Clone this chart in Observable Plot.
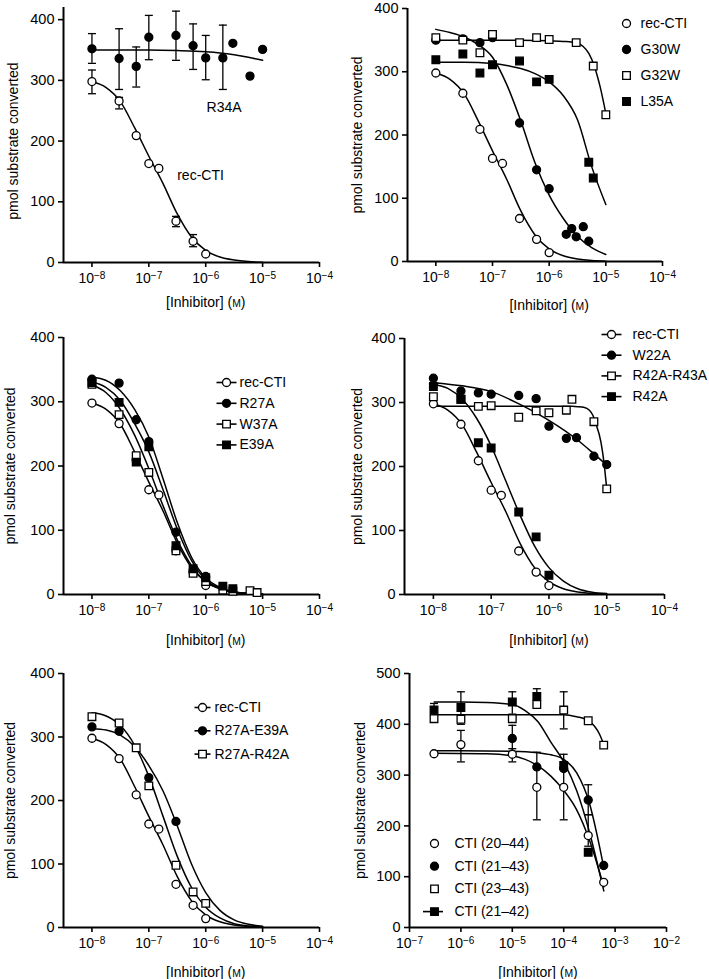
<!DOCTYPE html>
<html><head><meta charset="utf-8">
<script src="https://cdn.jsdelivr.net/npm/d3@7"></script>
<script src="https://cdn.jsdelivr.net/npm/@observablehq/plot@0.6"></script>
<style>
body{margin:0;background:#fff;}
#root{position:relative;width:709px;height:979px;overflow:hidden;background:#fff;font-family:"Liberation Sans",Arial,sans-serif;}
#root svg{position:absolute;}
</style></head><body><div id="root"></div>
<script>
// ---------- shared ticks ----------
const xTicksA = [1e-8, 1e-7, 1e-6, 1e-5, 1e-4];
const xTicksF = [1e-7, 1e-6, 1e-5, 1e-4, 1e-3, 1e-2];
const yTicksA = [0, 100, 200, 300, 400];
const yTicksF = [0, 100, 200, 300, 400, 500];
const yLabel = "pmol substrate converted";
const xLabel = "[Inhibitor] (M)";
const fitE = [-8, -7.75, -7.5, -7.25, -7, -6.75, -6.5, -6.25, -6, -5.75, -5.5, -5.25, -5];

// ---------- rec-CTI (shared) ----------
const recX = [1e-8, 3e-8, 6e-8, 1e-7, 1.5e-7, 3e-7, 6e-7, 1e-6];
const recY = [298, 266, 209, 163, 155, 68, 35, 14];
const recErrX = [1e-8, 3e-8, 3e-7, 6e-7];
const recErrLo = [278, 253, 59, 26];
const recErrHi = [317, 272, 76, 46];
const recFit = [298, 288, 265, 222, 175, 130, 80, 42, 20, 9, 4, 1.5, 0.5];

// ---------- panel A ----------
const r34aX = [1e-8, 3e-8, 6e-8, 1e-7, 3e-7, 6e-7, 1e-6, 2e-6, 3e-6, 6e-6, 1e-5];
const r34aY = [352, 336, 323, 371, 374, 357, 337, 337, 361, 307, 351];
const r34aErrX = [1e-8, 3e-8, 6e-8, 1e-7, 3e-7, 6e-7, 1e-6, 2e-6];
const r34aErrLo = [328, 285, 289, 334, 333, 318, 301, 285];
const r34aErrHi = [377, 385, 355, 407, 414, 393, 374, 391];
const r34aFitE = [-8, -7.5, -7, -6.5, -6, -5.75, -5.5, -5.25, -5];
const r34aFit = [350, 350, 350, 349, 347, 345, 342, 338, 333];
const annText = ["R34A", "rec-CTI"];
const annX = [2.1e-6, 8.1e-7];
const annY = [255, 143];

// ---------- panel B ----------
const g30wX = [1e-8, 3e-8, 6e-8, 1e-7, 3e-7, 6e-7, 1e-6, 2e-6, 2.5e-6, 3e-6, 4e-6, 5e-6];
const g30wY = [350, 352, 346, 354, 219, 145, 115, 43, 52, 39, 55, 32];
const g30wFit = [367, 362, 355, 343, 323, 280, 222, 156, 105, 68, 40, 22, 11];
const g32wX = [1e-8, 3e-8, 6e-8, 1e-7, 3e-7, 6e-7, 1e-6, 3e-6, 6e-6, 1e-5];
const g32wY = [354, 350, 330, 359, 346, 354, 351, 346, 309, 232];
const g32wFitE = [-8, -7, -6.5, -6, -5.75, -5.5, -5.4, -5.3, -5.2, -5.1, -5];
const g32wFit = [350, 350, 350, 349, 348, 345, 340, 329, 308, 276, 234];
const l35aX = [1e-8, 3e-8, 6e-8, 1e-7, 3e-7, 6e-7, 1e-6, 5e-6, 6e-6];
const l35aY = [319, 328, 298, 311, 317, 284, 288, 157, 132];
const l35aFitE = [-8, -7.5, -7, -6.75, -6.5, -6.25, -6, -5.75, -5.5, -5.25, -5];
const l35aFit = [315, 315, 313, 310, 305, 297, 284, 262, 224, 150, 90];

// ---------- panel C ----------
const r27aX = [1e-8, 3e-8, 6e-8, 1e-7, 3e-7, 1e-6];
const r27aY = [335, 329, 272, 238, 97, 28];
const r27aFit = [338, 333, 317, 288, 245, 180, 112, 58, 26, 11, 4, 1.5, 0.5];
const w37aX = [1e-8, 3e-8, 6e-8, 1e-7, 3e-7, 6e-7, 1e-6, 2e-6, 3e-6, 6e-6, 8e-6];
const w37aY = [327, 280, 216, 190, 68, 33, 20, 7, 5, 6, 3];
const w37aFit = [326, 314, 288, 248, 196, 138, 85, 45, 20, 9, 3.5, 1.2, 0.4];
const e39aX = [1e-8, 3e-8, 6e-8, 1e-7, 3e-7, 6e-7, 1e-6, 2e-6, 3e-6];
const e39aY = [330, 299, 206, 230, 76, 40, 26, 13, 9];
const e39aFit = [331, 322, 302, 266, 222, 163, 102, 53, 23, 10, 4, 1.5, 0.5];

// ---------- panel D ----------
const w22aX = [1e-8, 3e-8, 6e-8, 1e-7, 3e-7, 6e-7, 1e-6, 2e-6, 3e-6, 6e-6, 1e-5];
const w22aY = [338, 318, 315, 313, 311, 306, 263, 244, 245, 216, 203];
const w22aFitE = [-8, -7.5, -7, -6.5, -6, -5.5, -5.25, -5];
const w22aFit = [331, 326, 317, 297, 272, 241, 222, 202];
const r4243X = [1e-8, 3e-8, 6e-8, 1e-7, 3e-7, 6e-7, 1e-6, 2e-6, 2.5e-6, 6e-6, 1e-5];
const r4243Y = [309, 305, 294, 295, 277, 287, 284, 288, 305, 270, 165];
const r4243FitE = [-8, -7, -6, -5.6, -5.5, -5.4, -5.3, -5.24, -5.2, -5.1, -5.05, -5];
const r4243Fit = [294, 294, 294, 294, 293.5, 292.5, 288, 280, 270, 238, 208, 165];
const r42aX = [1e-8, 3e-8, 6e-8, 1e-7, 3e-7, 6e-7, 1e-6];
const r42aY = [325, 305, 237, 229, 129, 90, 30];
const r42aFit = [328, 322, 305, 275, 232, 178, 124, 76, 42, 21, 9, 3.5, 1.5];

// ---------- panel E ----------
const r27e39X = [1e-8, 3e-8, 1e-7, 3e-7];
const r27e39Y = [316, 309, 236, 167];
const r27e39Fit = [313, 311, 303, 285, 255, 215, 160, 100, 55, 27, 12, 5, 2];
const r27r42X = [1e-8, 3e-8, 6e-8, 1e-7, 3e-7, 6e-7, 1e-6];
const r27r42Y = [332, 322, 283, 223, 98, 56, 38];
const r27r42Fit = [338, 333, 318, 287, 238, 175, 112, 63, 32, 15, 6, 2.5, 1];

// ---------- panel F ----------
const c2044X = [3e-7, 1e-6, 1e-5, 3e-5, 1e-4, 3e-4, 6e-4];
const c2044Y = [342, 360, 341, 276, 276, 181, 89];
const c2044ErrX = [1e-6, 1e-5, 3e-5, 1e-4, 3e-4];
const c2044ErrLo = [326, 326, 212, 212, 160];
const c2044ErrHi = [388, 352, 345, 341, 222];
const c2044FitE = [-6.52, -5.5, -5, -4.75, -4.5, -4.25, -4, -3.75, -3.5, -3.35, -3.22];
const c2044Fit = [343, 342, 338, 331, 318, 298, 270, 232, 172, 125, 80];
const c2143X = [1e-5, 3e-5, 1e-4, 3e-4, 6e-4];
const c2143Y = [372, 316, 313, 251, 122];
const c2143ErrX = [1e-5, 3e-4];
const c2143ErrLo = [345, 222];
const c2143ErrHi = [398, 281];
const c2143FitE = [-6.52, -5, -4.5, -4.25, -4, -3.75, -3.5, -3.35, -3.22];
const c2143Fit = [348, 347, 344, 340, 331, 305, 245, 182, 118];
const c2343X = [3e-7, 1e-6, 1e-5, 3e-5, 1e-4, 3e-4, 6e-4];
const c2343Y = [411, 410, 411, 439, 428, 407, 359];
const c2343ErrX = [1e-4];
const c2343ErrLo = [391];
const c2343ErrHi = [464];
const c2343FitE = [-6.52, -5, -4, -3.75, -3.5, -3.4, -3.3, -3.22];
const c2343Fit = [419, 419, 419, 415, 406, 396, 380, 360];
const c2142X = [3e-7, 1e-6, 1e-5, 3e-5, 1e-4, 3e-4];
const c2142Y = [428, 433, 444, 455, 319, 148];
const c2142ErrX = [3e-7, 1e-6, 1e-5, 3e-5];
const c2142ErrLo = [418, 400, 420, 440];
const c2142ErrHi = [441, 464, 464, 470];
const c2142FitE = [-6.52, -6, -5.5, -5, -4.75, -4.5, -4.25, -4, -3.75, -3.5, -3.35, -3.22];
const c2142Fit = [444, 444, 443, 439, 427, 405, 365, 326, 270, 188, 128, 72];

// ---------- styles ----------
const ST = {
  oc: {symbol: "circle", fill: "white", r: 4},
  fc: {symbol: "circle", fill: "black", r: 4},
  os: {symbol: "square", fill: "white", r: 4.3},
  fs: {symbol: "square", fill: "black", r: 4.3}
};
const hSym = {draw(ctx, size) { const w = Math.sqrt(size / Math.PI); ctx.moveTo(-w, 0); ctx.lineTo(w, 0); }};
const FONT = '"Liberation Sans", Arial, Helvetica, sans-serif';

const rec = {name: "rec-CTI", x: recX, y: recY, st: "oc", fitE, fit: recFit};

const panels = [
  {left: 0, top: 0, width: 354, height: 320, m: [7, 35, 58, 63], xDomain: [10 ** -8.5, 1e-4], xTicks: xTicksA,
   yDomain: [0, 420], yTicks: yTicksA, ylabDx: -50, xlabDy: 40,
   series: [
     {name: "R34A", x: r34aX, y: r34aY, st: "fc", fitE: r34aFitE, fit: r34aFit, errX: r34aErrX, lo: r34aErrLo, hi: r34aErrHi},
     {...rec, errX: recErrX, lo: recErrLo, hi: recErrHi}],
   ann: true},
  {left: 354, top: 0, width: 355, height: 320, m: [8, 47, 59, 53], xDomain: [10 ** -8.5, 1e-4], xTicks: xTicksA,
   yDomain: [0, 400], yTicks: yTicksA, ylabDx: -50, xlabDy: 44,
   series: [
     rec,
     {name: "G30W", x: g30wX, y: g30wY, st: "fc", fitE, fit: g30wFit},
     {name: "G32W", x: g32wX, y: g32wY, st: "os", fitE: g32wFitE, fit: g32wFit},
     {name: "L35A", x: l35aX, y: l35aY, st: "fs", fitE: l35aFitE, fit: l35aFit}],
   legend: {symX: 626, textX: 640, y0: 23, step: 26, half: 0}},
  {left: 0, top: 320, width: 354, height: 330, m: [17, 35, 56, 63], xDomain: [10 ** -8.5, 1e-4], xTicks: xTicksA,
   yDomain: [0, 400], yTicks: yTicksA, ylabDx: -53, xlabDy: 46,
   series: [
     rec,
     {name: "R27A", x: r27aX, y: r27aY, st: "fc", fitE, fit: r27aFit},
     {name: "W37A", x: w37aX, y: w37aY, st: "os", fitE, fit: w37aFit},
     {name: "E39A", x: e39aX, y: e39aY, st: "fs", fitE, fit: e39aFit}],
   legend: {symX: 226, textX: 239, y0: 382, step: 20.8, half: 10}},
  {left: 354, top: 320, width: 355, height: 330, m: [18, 45, 56, 50], xDomain: [10 ** -8.5, 1e-4], xTicks: xTicksA,
   yDomain: [0, 400], yTicks: yTicksA, ylabDx: -47, xlabDy: 46,
   series: [
     rec,
     {name: "W22A", x: w22aX, y: w22aY, st: "fc", fitE: w22aFitE, fit: w22aFit},
     {name: "R42A-R43A", x: r4243X, y: r4243Y, st: "os", fitE: r4243FitE, fit: r4243Fit},
     {name: "R42A", x: r42aX, y: r42aY, st: "fs", fitE, fit: r42aFit}],
   legend: {symX: 611, textX: 632, y0: 334, step: 20.7, half: 10}},
  {left: 0, top: 650, width: 354, height: 329, m: [23, 35, 52, 63], xDomain: [10 ** -8.5, 1e-4], xTicks: xTicksA,
   yDomain: [0, 400], yTicks: yTicksA, ylabDx: -53, xlabDy: 45,
   series: [
     rec,
     {name: "R27A-E39A", x: r27e39X, y: r27e39Y, st: "fc", fitE, fit: r27e39Fit},
     {name: "R27A-R42A", x: r27r42X, y: r27r42Y, st: "os", fitE, fit: r27r42Fit}],
   legend: {symX: 202, textX: 214, y0: 707, step: 23.3, half: 8}},
  {left: 354, top: 650, width: 355, height: 329, m: [23, 43, 52, 55], xDomain: [1e-7, 1e-2], xTicks: xTicksF,
   yDomain: [0, 500], yTicks: yTicksF, ylabDx: -49, xlabDy: 45,
   series: [
     {name: "CTI (20–44)", x: c2044X, y: c2044Y, st: "oc", fitE: c2044FitE, fit: c2044Fit, errX: c2044ErrX, lo: c2044ErrLo, hi: c2044ErrHi, noLegLine: true},
     {name: "CTI (21–43)", x: c2143X, y: c2143Y, st: "fc", fitE: c2143FitE, fit: c2143Fit, errX: c2143ErrX, lo: c2143ErrLo, hi: c2143ErrHi, noLegLine: true},
     {name: "CTI (23–43)", x: c2343X, y: c2343Y, st: "os", fitE: c2343FitE, fit: c2343Fit, errX: c2343ErrX, lo: c2343ErrLo, hi: c2343ErrHi, noLegLine: true},
     {name: "CTI (21–42)", x: c2142X, y: c2142Y, st: "fs", fitE: c2142FitE, fit: c2142Fit, errX: c2142ErrX, lo: c2142ErrLo, hi: c2142ErrHi}],
   legend: {symX: 434, textX: 454, y0: 843, step: 22.7, half: 10}}
];

function fixText(svg) {
  const NS = "http://www.w3.org/2000/svg";
  svg.querySelectorAll("text").forEach(t => {
    const s = t.textContent;
    const m = /^10\^(-?\d+)$/.exec(s);
    if (m) {
      t.textContent = "10";
      const sup = document.createElementNS(NS, "tspan");
      sup.setAttribute("dy", "-0.45em");
      sup.setAttribute("font-size", "0.72em");
      sup.textContent = m[1].replace("-", "\u2212");
      t.appendChild(sup);
    } else if (s.includes("(M)")) {
      const i = s.indexOf("(M)");
      t.textContent = s.slice(0, i + 1);
      const sc = document.createElementNS(NS, "tspan");
      sc.setAttribute("font-size", "0.74em");
      sc.textContent = "M";
      t.appendChild(sc);
      t.appendChild(document.createTextNode(")"));
    }
  });
}

const root = document.getElementById("root");
for (const p of panels) {
  const [mT, mR, mB, mL] = p.m;
  const marks = [];
  // axes
  marks.push(Plot.ruleX([p.xDomain[0]], {stroke: "black", strokeWidth: 2}));
  marks.push(Plot.ruleY([p.yDomain[0]], {stroke: "black", strokeWidth: 2}));
  marks.push(Plot.axisX({ticks: p.xTicks, tickFormat: v => "10^" + Math.round(Math.log10(v)), tickSize: 5, tickPadding: 6, strokeWidth: 1.6, label: null, fontSize: 14}));
  marks.push(Plot.axisY({ticks: p.yTicks, tickSize: 5, tickPadding: 4, strokeWidth: 1.6, label: null, fontSize: 14.5}));
  // fitted curves
  for (const s of p.series) {
    const d = s.fitE.map((e, i) => ({x: 10 ** e, y: s.fit[i]}));
    marks.push(Plot.line(d, {x: "x", y: "y", curve: "monotone-x", stroke: "black", strokeWidth: 1.5}));
  }
  // error bars
  for (const s of p.series) {
    if (!s.errX) continue;
    const d = s.errX.map((x, i) => ({x, lo: s.lo[i], hi: s.hi[i]}));
    marks.push(Plot.ruleX(d, {x: "x", y1: "lo", y2: "hi", stroke: "black", strokeWidth: 1.3}));
    marks.push(Plot.dot(d, {x: "x", y: "lo", symbol: hSym, r: 4, fill: "none", stroke: "black", strokeWidth: 1.3}));
    marks.push(Plot.dot(d, {x: "x", y: "hi", symbol: hSym, r: 4, fill: "none", stroke: "black", strokeWidth: 1.3}));
  }
  // points
  for (const s of p.series) {
    const d = s.x.map((x, i) => ({x, y: s.y[i]}));
    const st = ST[s.st];
    marks.push(Plot.dot(d, {x: "x", y: "y", symbol: st.symbol, r: st.r, fill: st.fill, stroke: "black", strokeWidth: 1.3}));
  }
  // annotations (panel A)
  if (p.ann) {
    const d = annText.map((t, i) => ({t, x: annX[i], y: annY[i]}));
    marks.push(Plot.text(d, {x: "x", y: "y", text: "t", fontSize: 14, fill: "black"}));
  }
  // legend
  if (p.legend) {
    const L = p.legend;
    const ox = p.left + mL, oy = p.top + mT;
    p.series.forEach((s, i) => {
      const dy = L.y0 + i * L.step - oy;
      const st = ST[s.st];
      if (L.half > 0 && !s.noLegLine) {
        marks.push(Plot.dot([s.name], {frameAnchor: "top-left", dx: L.symX - ox - (p.xTicks === xTicksF ? 1.5 : 0), dy, symbol: hSym, r: L.half, fill: "none", stroke: "black", strokeWidth: 1.6}));
      }
      marks.push(Plot.dot([s.name], {frameAnchor: "top-left", dx: L.symX - ox, dy, symbol: st.symbol, r: st.r, fill: st.fill, stroke: "black", strokeWidth: 1.3}));
      marks.push(Plot.text([s.name], {frameAnchor: "top-left", dx: L.textX - ox, dy, text: d => d, textAnchor: "start", lineAnchor: "middle", fontSize: 14, fill: "black"}));
    });
  }
  // axis labels
  const xMid = Math.sqrt(p.xTicks[0] * p.xTicks[p.xTicks.length - 1]);
  const yMid = (p.yTicks[0] + p.yTicks[p.yTicks.length - 1]) / 2;
  marks.push(Plot.text([{t: xLabel, x: xMid}], {x: "x", text: "t", frameAnchor: "bottom", dy: p.xlabDy, textAnchor: "middle", lineAnchor: "middle", fontSize: 14, fill: "black"}));
  marks.push(Plot.text([{t: yLabel, y: yMid}], {y: "y", text: "t", frameAnchor: "left", dx: p.ylabDx, rotate: -90, textAnchor: "middle", lineAnchor: "middle", fontSize: 14, fill: "black"}));

  const svg = Plot.plot({
    width: p.width, height: p.height,
    marginTop: mT, marginRight: mR, marginBottom: mB, marginLeft: mL,
    x: {type: "log", domain: p.xDomain},
    y: {domain: p.yDomain},
    style: {fontFamily: FONT, fontSize: "14px", color: "black", background: "transparent", overflow: "visible"},
    marks
  });
  svg.style.left = p.left + "px";
  svg.style.top = p.top + "px";
  fixText(svg);
  root.appendChild(svg);
}
</script>
</body></html>
